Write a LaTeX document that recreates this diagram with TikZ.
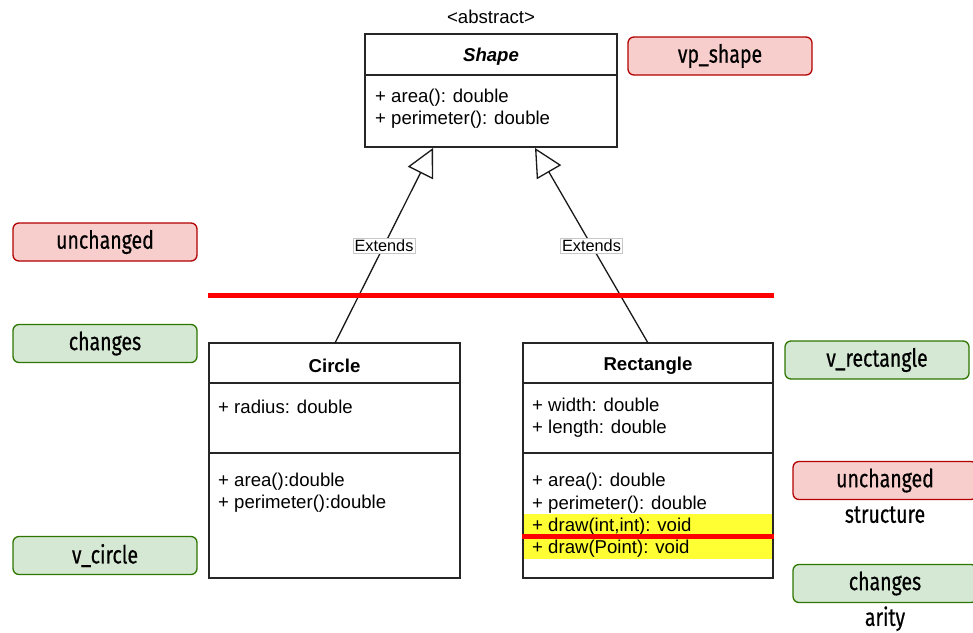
\documentclass[tikz,border=0pt]{standalone}
\usepackage{fontspec}
\setmainfont{Liberation Sans}
\newfontfamily\tagfont{Fira Sans}[FakeStretch=0.78, FakeBold=0.5]
\usetikzlibrary{positioning, arrows.meta, backgrounds, calc}
\definecolor{redfill}{HTML}{F8CECC}
\definecolor{rededge}{HTML}{B20000}
\definecolor{greenfill}{HTML}{D5E8D4}
\definecolor{greenedge}{HTML}{2D7600}
\definecolor{hiyellow}{HTML}{FFFF33}
\definecolor{cutred}{HTML}{FF0000}
\definecolor{lblgray}{HTML}{C8C8C8}

\begin{document}
\begin{tikzpicture}[
  x=1pt, y=-1pt,
  umlfont/.style={font=\fontsize{18.6}{22.3}\selectfont},
  cls/.style={rectangle, draw=black!85, line width=1.4pt, inner sep=0pt},
  title/.style={umlfont, inner sep=0pt},
  members/.style={umlfont, align=left, anchor=west, inner sep=0pt},
  divider/.style={draw=black!85, line width=1.4pt},
  ext/.style={-{Triangle[open, length=28pt, width=28pt, line width=1.3pt]}, line width=1.3pt, draw=black!90},
  extlbl/.style={fill=white, draw=lblgray, line width=0.6pt, inner sep=1.5pt, font=\fontsize{16.3}{19}\selectfont},
  tag/.style={rectangle, rounded corners=6pt, line width=1.3pt, minimum width=184pt, minimum height=38pt, font=\tagfont\fontsize{25}{28}\selectfont},
  redtag/.style={tag, draw=rededge, fill=redfill},
  greentag/.style={tag, draw=greenedge, fill=greenfill},
  note/.style={font=\tagfont\fontsize{25}{28}\selectfont, inner sep=0pt},
  cutline/.style={draw=cutred, line width=5pt},
]
\useasboundingbox (0,0) rectangle (973,632);

% abstract base class
\node[cls, minimum width=252pt, minimum height=113pt] (shape) at (491,90.5) {};
\node[title, above=9pt of shape] (abs) {<abstract>};
\node[title] (shapeT) at (491,56.5) {\bfseries\itshape Shape};
\draw[divider] (shape.west |- 0,75) -- (shape.east |- 0,75);
\node[members] (shapeM) at (375,109) {+ area(): double\\+ perimeter(): double};

% variants
\node[cls, minimum width=251pt, minimum height=235pt] (circ) at (334.5,460.5) {};
\node[title] (circT) at (334.5,366) {\bfseries Circle};
\draw[divider] (circ.west |- 0,383) -- (circ.east |- 0,383);
\draw[divider] (circ.west |- 0,453) -- (circ.east |- 0,453);
\node[members] (circA) at (218,407) {+ radius: double};
\node[members] (circM) at (218,493) {+ area():double\\+ perimeter():double};

\node[cls, minimum width=250pt, minimum height=235pt] (rect) at (648,460.5) {};
\begin{scope}[on background layer]
  \fill[hiyellow] (rect.west |- 0,514) rectangle (rect.east |- 0,559);
\end{scope}
\node[title] (rectT) at (648,366) {\bfseries Rectangle};
\draw[divider] (rect.west |- 0,383) -- (rect.east |- 0,383);
\draw[divider] (rect.west |- 0,453) -- (rect.east |- 0,453);
\node[members] (rectA) at (532,418) {+ width: double\\+ length: double};
\node[members] (rectM) at (532,515.5) {+ area(): double\\+ perimeter(): double\\+ draw(int,int): void\\+ draw(Point): void};
\draw[cutline] (rect.west |- 0,536) -- (rect.east |- 0,536);

% inheritance
\coordinate (circTop) at (335,343);
\coordinate (rectTop) at (648,343);
\coordinate (tipL) at (433,148);
\coordinate (tipR) at (535,148);
\draw[ext] (circTop) -- node[extlbl, pos=0.5] {Extends} (tipL);
\draw[ext] (rectTop) -- node[extlbl, pos=0.5] {Extends} (tipR);

% level separator
\draw[cutline] (circ.west |- 0,295) -- (rect.east |- 0,295);

% tags
\node[redtag] (vpShape) at (720,56) {vp\_shape};
\node[redtag] (unchL) at (105,242) {unchanged};
\node[greentag] (chgL) at (105,343.5) {changes};
\node[greentag] (vCirc) at (105,555.5) {v\_circle};
\node[greentag] (vRect) at (877,360) {v\_rectangle};
\node[redtag] (unchR) at (885,480.5) {unchanged};
\node[note, below=6pt of unchR] (structN) {structure};
\node[greentag] (chgR) at (885,583.5) {changes};
\node[note, below=3pt of chgR] (arityN) {arity};
\end{tikzpicture}
\end{document}
